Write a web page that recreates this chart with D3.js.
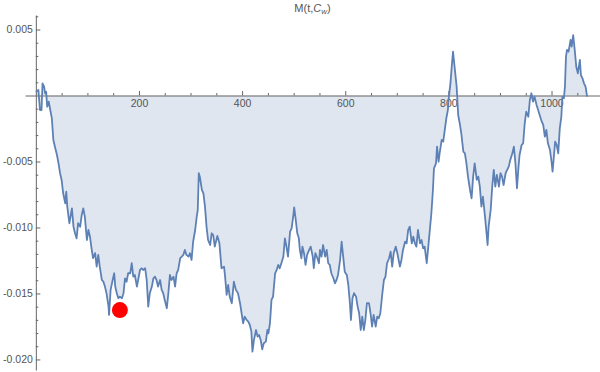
<!DOCTYPE html>
<html>
<head>
<meta charset="utf-8">
<script src="https://cdnjs.cloudflare.com/ajax/libs/d3/7.8.5/d3.min.js"></script>
<style>
body { margin: 0; background: #fff; }
svg { display: block; font-family: "Liberation Sans", Arial, sans-serif; }
.axis path, .axis line { stroke: #666; }
.axis text { fill: #555; font-size: 10.5px; font-family: "Liberation Sans", Arial, sans-serif; }
</style>
</head>
<body>
<svg width="600" height="372"></svg>
<script>
const WIDTH  = 600
const HEIGHT = 372
const LINE_COLOR = "#5e81b5"

// t
const times = [
  0, 5, 8, 11, 13, 16, 18, 20, 22, 25,
  28, 31, 34, 37, 41, 44, 47, 50, 53, 57,
  59, 61, 65, 70, 73, 76, 79, 82, 86, 89,
  92, 95, 99, 102, 105, 108, 111, 115, 118, 121,
  124, 128, 131, 134, 137, 141, 142, 145, 149, 152,
  154, 157, 160, 163, 167, 170, 173, 176, 179, 183,
  186, 189, 192, 196, 199, 202, 205, 208, 212, 215,
  218, 221, 225, 228, 231, 234, 237, 241, 244, 247,
  250, 254, 257, 260, 263, 267, 270, 273, 276, 280,
  283, 286, 289, 292, 296, 299, 302, 305, 309, 312,
  314, 316, 318, 322, 325, 328, 331, 334, 338, 341,
  344, 347, 352, 356, 360, 365, 367, 370, 373, 376,
  380, 384, 388, 392, 396, 399, 402, 405, 409, 412,
  415, 418, 420, 423, 427, 430, 433, 436, 439, 442,
  446, 449, 451, 454, 457, 460, 464, 467, 470, 473,
  477, 480, 483, 486, 489, 493, 496, 499, 501, 504,
  507, 510, 512, 515, 517, 520, 523, 526, 530, 533,
  537, 539, 542, 546, 549, 551, 554, 557, 561, 564,
  567, 570, 573, 577, 580, 583, 586, 590, 593, 596,
  599, 603, 606, 609, 611, 614, 617, 621, 624, 627,
  630, 633, 636, 639, 642, 646, 649, 652, 655, 659,
  662, 665, 668, 672, 675, 678, 681, 685, 688, 691,
  694, 698, 701, 706, 709, 712, 716, 719, 722, 725,
  729, 732, 735, 738, 741, 745, 748, 751, 754, 758,
  761, 764, 767, 770, 772, 776, 778, 781, 783, 787,
  790, 793, 796, 799, 801, 804, 807, 809, 812, 816,
  819, 822, 825, 829, 832, 835, 838, 842, 845, 848,
  851, 855, 858, 861, 864, 867, 871, 874, 876, 878,
  882, 885, 888, 891, 894, 898, 901, 904, 907, 911,
  914, 917, 920, 924, 927, 930, 933, 936, 938, 942,
  945, 948, 951, 955, 958, 961, 964, 967, 971, 974,
  977, 980, 984, 987, 990, 993, 997, 1000, 1002, 1004,
  1007, 1010, 1013, 1016, 1019, 1021, 1024, 1026, 1028, 1030,
  1033, 1037, 1039, 1042, 1045, 1048, 1051, 1055, 1057, 1060,
  1063, 1066, 1069
]

// M(t, Cw)
const values = [
  0.00029, 0.00042, -0.00110, -0.00110, 0.00092, 0.00067, 0.00017, 0.00029, -0.00085, -0.00047,
  -0.00110, -0.00171, -0.00337, -0.00388, -0.00451, -0.00514, -0.00589, -0.00640, -0.00741, -0.00817,
  -0.00729, -0.00842, -0.00968, -0.00855, -0.00994, -0.01044, -0.01082, -0.00968, -0.00994, -0.00905,
  -0.00855, -0.00918, -0.01095, -0.01019, -0.01070, -0.01158, -0.01233, -0.01195, -0.01297, -0.01208,
  -0.01297, -0.01398, -0.01411, -0.01448, -0.01498, -0.01600, -0.01663, -0.01473, -0.01398, -0.01347,
  -0.01448, -0.01498, -0.01536, -0.01524, -0.01536, -0.01498, -0.01385, -0.01411, -0.01347, -0.01347,
  -0.01271, -0.01373, -0.01360, -0.01448, -0.01385, -0.01322, -0.01309, -0.01322, -0.01309, -0.01398,
  -0.01600, -0.01498, -0.01448, -0.01385, -0.01373, -0.01398, -0.01448, -0.01398, -0.01473, -0.01498,
  -0.01549, -0.01612, -0.01498, -0.01360, -0.01398, -0.01373, -0.01448, -0.01347, -0.01322, -0.01233,
  -0.01221, -0.01208, -0.01170, -0.01208, -0.01221, -0.01195, -0.01246, -0.01108, -0.01019, -0.00918,
  -0.00867, -0.00589, -0.00615, -0.00716, -0.00741, -0.00842, -0.00994, -0.01095, -0.01133, -0.01044,
  -0.01057, -0.01145, -0.01064, -0.01120, -0.01309, -0.01297, -0.01373, -0.01511, -0.01436, -0.01524,
  -0.01574, -0.01411, -0.01473, -0.01498, -0.01574, -0.01650, -0.01726, -0.01676, -0.01701, -0.01714,
  -0.01739, -0.01789, -0.01941, -0.01852, -0.01777, -0.01827, -0.01814, -0.01852, -0.01923, -0.01877,
  -0.01865, -0.01777, -0.01802, -0.01726, -0.01549, -0.01524, -0.01347, -0.01322, -0.01284, -0.01309,
  -0.01259, -0.01221, -0.01082, -0.01145, -0.01221, -0.01032, -0.01006, -0.00918, -0.00847, -0.00943,
  -0.01044, -0.01082, -0.01170, -0.01233, -0.01145, -0.01195, -0.01284, -0.01208, -0.01170, -0.01145,
  -0.01221, -0.01309, -0.01195, -0.01233, -0.01271, -0.01170, -0.01221, -0.01133, -0.01221, -0.01170,
  -0.01271, -0.01284, -0.01347, -0.01385, -0.01423, -0.01398, -0.01360, -0.01246, -0.01108, -0.01221,
  -0.01335, -0.01360, -0.01436, -0.01574, -0.01701, -0.01536, -0.01498, -0.01524, -0.01600, -0.01650,
  -0.01777, -0.01676, -0.01777, -0.01701, -0.01574, -0.01574, -0.01650, -0.01752, -0.01663, -0.01752,
  -0.01676, -0.01688, -0.01650, -0.01498, -0.01398, -0.01373, -0.01271, -0.01233, -0.01183, -0.01297,
  -0.01195, -0.01145, -0.01195, -0.01297, -0.01246, -0.01170, -0.01108, -0.01120, -0.01019, -0.00994,
  -0.01120, -0.01070, -0.01120, -0.01145, -0.01019, -0.01120, -0.01095, -0.01158, -0.01145, -0.01271,
  -0.01145, -0.01019, -0.00892, -0.00716, -0.00552, -0.00514, -0.00388, -0.00502, -0.00438, -0.00337,
  -0.00350, -0.00261, -0.00173, -0.00110, -0.00009, 0.00092, 0.00244, 0.00332, 0.00218, 0.00067,
  -0.00148, -0.00211, -0.00286, -0.00426, -0.00438, -0.00514, -0.00615, -0.00716, -0.00779, -0.00615,
  -0.00514, -0.00640, -0.00615, -0.00691, -0.00842, -0.00767, -0.00918, -0.01044, -0.01133, -0.00994,
  -0.00867, -0.00691, -0.00564, -0.00691, -0.00602, -0.00691, -0.00589, -0.00615, -0.00678, -0.00589,
  -0.00564, -0.00539, -0.00489, -0.00438, -0.00388, -0.00514, -0.00703, -0.00539, -0.00451, -0.00375,
  -0.00362, -0.00211, -0.00123, -0.00161, -0.00034, 0.00017, -0.00047, -0.00009, -0.00072, -0.00110,
  -0.00148, -0.00186, -0.00224, -0.00312, -0.00261, -0.00362, -0.00413, -0.00502, -0.00577, -0.00489,
  -0.00350, -0.00375, -0.00438, -0.00249, -0.00161, -0.00009, -0.00021, 0.00067, 0.00294, 0.00345,
  0.00332, 0.00421, 0.00370, 0.00458, 0.00345, 0.00218, 0.00168, 0.00269, 0.00155, 0.00130,
  0.00092, 0.00067, -0.00009
]

// the highlighted point
const marked = [{ t: 163, m: -0.01626 }]

const xMajor = [200, 400, 600, 800, 1000]
const xLabels = ["200", "400", "600", "800", "1000"]
const xMinor = [50, 100, 150, 250, 300, 350, 450, 500, 550, 650, 700, 750, 850, 900, 950, 1050]
const yMajor = [0.005, -0.005, -0.010, -0.015, -0.020]
const yLabels = ["0.005", "-0.005", "-0.010", "-0.015", "-0.020"]

const data = times.map((t, i) => ({ t: t, m: values[i] }))

const svg = d3.select("svg")
	.attr("width", WIDTH)
	.attr("height", HEIGHT)

const x = d3.scaleLinear().domain([-21, 1094]).range([25, 600])
const y = d3.scaleLinear().domain([-0.0208, 0.0061]).range([370, 15])

// filling to the axis
const area = d3.area()
	.x(d => x(d.t))
	.y0(y(0))
	.y1(d => y(d.m))

svg.append("path")
	.datum(data)
	.attr("d", area)
	.attr("fill", LINE_COLOR)
	.attr("fill-opacity", 0.2)

// x axis: minor, then major with labels
svg.append("g")
	.attr("class", "axis")
	.attr("transform", `translate(0,${y(0)})`)
	.call(d3.axisBottom(x).tickValues(xMinor).tickSizeInner(-2.5).tickSizeOuter(0).tickFormat(""))

svg.append("g")
	.attr("class", "axis")
	.attr("transform", `translate(0,${y(0)})`)
	.call(d3.axisBottom(x).tickValues(xMajor).tickSizeInner(-4.5).tickSizeOuter(0).tickPadding(4)
		.tickFormat((d, i) => xLabels[i]))
	.call(g => g.select(".domain").remove())

// y axis
const yMinor = d3.range(-20, 7).map(k => k / 1000).filter(v => yMajor.every(u => Math.abs(u - v) > 1e-9) && v !== 0)

svg.append("g")
	.attr("class", "axis")
	.attr("transform", `translate(${x(0)},0)`)
	.call(d3.axisLeft(y).tickValues(yMinor).tickSizeInner(-2.5).tickSizeOuter(0).tickFormat(""))

svg.append("g")
	.attr("class", "axis")
	.attr("transform", `translate(${x(0)},0)`)
	.call(d3.axisLeft(y).tickValues(yMajor).tickSizeInner(-4.5).tickSizeOuter(0).tickPadding(3)
		.tickFormat((d, i) => yLabels[i]))
	.call(g => g.select(".domain").remove())

// curve
const line = d3.line()
	.x(d => x(d.t))
	.y(d => y(d.m))

svg.append("path")
	.datum(data)
	.attr("d", line)
	.attr("fill", "none")
	.attr("stroke", LINE_COLOR)
	.attr("stroke-width", 1.8)
	.attr("stroke-linejoin", "round")

svg.selectAll(".marked")
	.data(marked)
	.enter()
	.append("circle")
	.attr("class", "marked")
	.attr("cx", d => x(d.t))
	.attr("cy", d => y(d.m))
	.attr("r", 8)
	.attr("fill", "#ff0000")

// title M(t, Cw)
const title = svg.append("text")
	.attr("x", (x.range()[0] + x.range()[1]) / 2)
	.attr("y", 12)
	.attr("text-anchor", "middle")
	.attr("fill", "#555")
	.style("font-size", "11px")

title.append("tspan").text("M(t,")
title.append("tspan").attr("font-style", "italic").text("C")
title.append("tspan").attr("font-style", "italic").attr("font-size", "8px").attr("dy", 2).text("w")
title.append("tspan").attr("dy", -2).text(")")
</script>
</body>
</html>
